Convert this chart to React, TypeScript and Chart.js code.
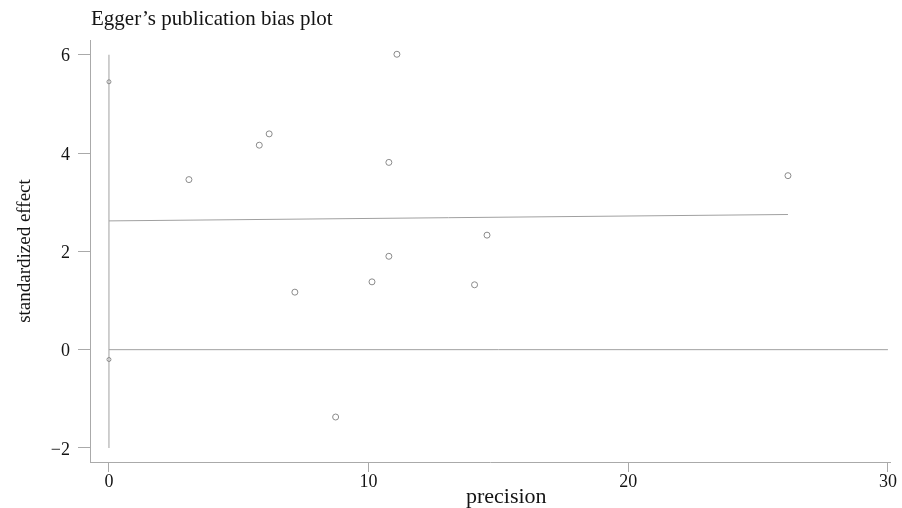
import React, { useEffect, useRef } from "react";
import { Chart, registerables } from "chart.js";

Chart.register(...registerables);

// Study points: precision (1/SE) and standardized effect (effect/SE)
const precision = [0, 0, 3.08, 5.79, 6.17, 7.16, 8.73, 10.13, 10.78, 10.78, 11.09, 14.08, 14.56, 26.15];
const stdEffect = [5.45, -0.2, 3.46, 4.16, 4.39, 1.17, -1.37, 1.38, 3.81, 1.9, 6.01, 1.32, 2.33, 3.54];

// Egger regression line (start/end)
const regX = [0, 26.15];
const regY = [2.62, 2.75];

// Reference lines
const vLineX = [0, 0];
const vLineY = [-2, 6];
const hLineX = [0, 30];
const hLineY = [0, 0];

const xTicks = [0, 10, 20, 30];
const yTicks = [-2, 0, 2, 4, 6];

const titleText = "Egger’s publication bias plot";
const xTitle = "precision";
const yTitle = "standardized effect";

const SERIF = '"Liberation Serif", "DejaVu Serif", serif';
const LINE = "#a0a0a0";
const AXIS = "#aaaaaa";
const TEXT = "#141414";

const textPlugin = {
  id: "textPlugin",
  afterDraw(chart: any) {
    const ctx = chart.ctx;
    const xs = chart.scales.x;
    const area = chart.chartArea;
    ctx.save();
    ctx.fillStyle = TEXT;
    ctx.font = `21px ${SERIF}`;
    ctx.textAlign = "left";
    ctx.textBaseline = "alphabetic";
    ctx.fillText(titleText, 91, 25);

    ctx.font = `22px ${SERIF}`;
    ctx.textAlign = "center";
    ctx.fillText(xTitle, xs.getPixelForValue(15.3), 503);

    ctx.translate(30, (area.top + area.bottom) / 2);
    ctx.rotate(-Math.PI / 2);
    ctx.font = `19px ${SERIF}`;
    ctx.textAlign = "center";
    ctx.fillText(yTitle, 0, 0);
    ctx.restore();
  },
};

export default function App() {
  const ref = useRef<HTMLCanvasElement | null>(null);

  useEffect(() => {
    if (!ref.current) return;
    const pts = precision.map((p, i) => ({ x: p, y: stdEffect[i] }));
    const line = (xa: number[], ya: number[]) => xa.map((x, i) => ({ x, y: ya[i] }));
    const chart = new Chart(ref.current, {
      type: "scatter",
      data: {
        datasets: [
          {
            label: "studies",
            data: pts,
            pointStyle: "circle",
            pointRadius: (c: any) => (c.raw && c.raw.x === 0 ? 2 : 3),
            borderColor: "#8a8a8a",
            backgroundColor: "rgba(255,255,255,0)",
            borderWidth: 1,
          },
          {
            label: "regression",
            data: line(regX, regY),
            showLine: true,
            pointRadius: 0,
            borderColor: LINE,
            borderWidth: 1,
          },
          {
            label: "vline",
            data: line(vLineX, vLineY),
            showLine: true,
            pointRadius: 0,
            borderColor: LINE,
            borderWidth: 1,
          },
          {
            label: "hline",
            data: line(hLineX, hLineY),
            showLine: true,
            pointRadius: 0,
            borderColor: LINE,
            borderWidth: 1,
          },
        ],
      },
      options: {
        animation: false,
        responsive: true,
        maintainAspectRatio: false,
        layout: { padding: { top: 40, right: 12, left: 0, bottom: 0 } },
        plugins: { legend: { display: false }, tooltip: { enabled: false }, title: { display: false } },
        scales: {
          x: {
            type: "linear",
            min: -0.73,
            max: 30.08,
            afterBuildTicks: (s: any) => {
              s.ticks = xTicks.map((v) => ({ value: v }));
            },
            afterFit: (s: any) => {
              s.height = 46;
            },
            grid: { drawOnChartArea: false, drawTicks: true, tickLength: 10, color: AXIS, lineWidth: 1 },
            border: { display: true, color: AXIS, width: 1 },
            ticks: {
              font: { family: SERIF, size: 18 },
              color: TEXT,
              padding: -1,
              maxRotation: 0,
              autoSkip: false,
              callback: (v: any) => String(v),
            },
          },
          y: {
            type: "linear",
            min: -2.285,
            max: 6.3,
            afterBuildTicks: (s: any) => {
              s.ticks = yTicks.map((v) => ({ value: v }));
            },
            afterFit: (s: any) => {
              s.width = 90;
            },
            grid: { drawOnChartArea: false, drawTicks: true, tickLength: 12, color: AXIS, lineWidth: 1 },
            border: { display: true, color: AXIS, width: 1 },
            ticks: {
              font: { family: SERIF, size: 18 },
              color: TEXT,
              padding: 8,
              labelOffset: 2,
              autoSkip: false,
              callback: (v: any) => (v < 0 ? "−" + String(Math.abs(v)) : String(v)),
            },
          },
        },
      },
      plugins: [textPlugin],
    });
    return () => chart.destroy();
  }, []);

  return (
    <div style={{ position: "fixed", left: 0, top: 0, width: 902, height: 508, background: "#fff" }}>
      <canvas ref={ref} />
    </div>
  );
}
